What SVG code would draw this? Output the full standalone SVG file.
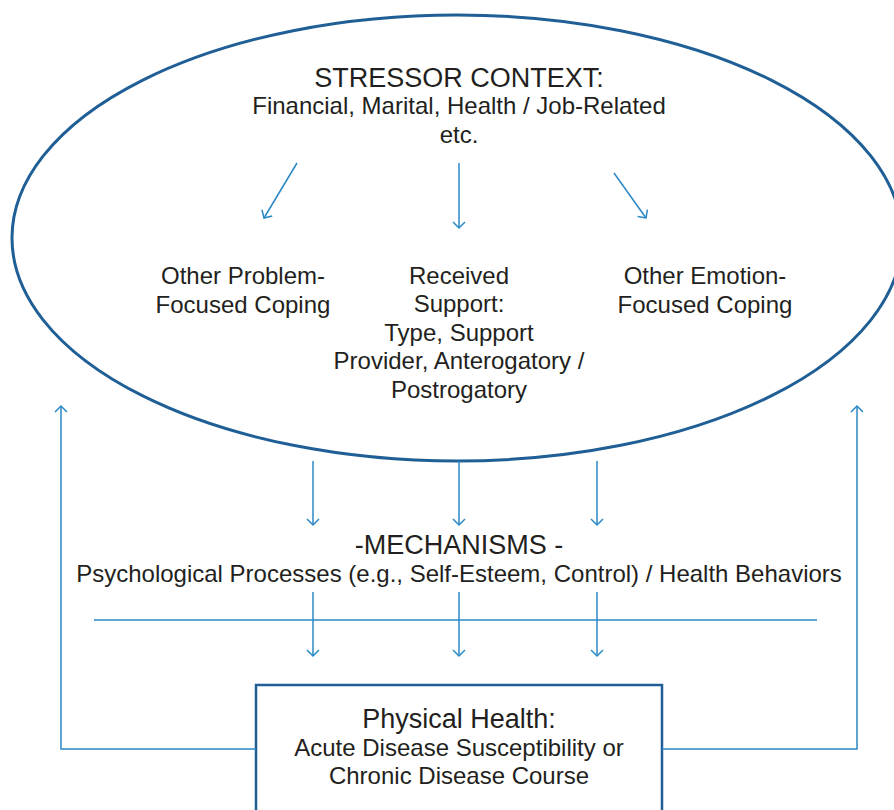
<svg xmlns="http://www.w3.org/2000/svg" width="894" height="810" viewBox="0 0 894 810">
<style>
text{font-family:"Liberation Sans",Arial,sans-serif;fill:#231f20;text-anchor:middle}
.t{font-size:27px}
.s{font-size:24px}
.c{stroke:#2a88c6;stroke-width:1.5;fill:none}
</style>
<defs>
<marker id="a" markerWidth="14" markerHeight="14" refX="7" refY="7" orient="auto" markerUnits="userSpaceOnUse">
<path d="M1,1 L7,7 L1,13" fill="none" stroke="#2a88c6" stroke-width="1.5"/>
</marker>
</defs>
<rect width="894" height="810" fill="#fff"/>
<g id="stressor">
<ellipse cx="457" cy="238" rx="445" ry="223" fill="none" stroke="#1f5f96" stroke-width="3"/>
<text class="t" x="459" y="87">STRESSOR CONTEXT:</text>
<text class="s" x="459" y="114">Financial, Marital, Health / Job-Related</text>
<text class="s" x="459" y="143">etc.</text>
</g>
<g id="problem">
<text class="s" x="243" y="284">Other Problem-</text>
<text class="s" x="243" y="313">Focused Coping</text>
</g>
<g id="support">
<text class="s" x="459" y="284">Received</text>
<text class="s" x="459" y="312">Support:</text>
<text class="s" x="459" y="341">Type, Support</text>
<text class="s" x="459" y="369">Provider, Anterogatory /</text>
<text class="s" x="459" y="398">Postrogatory</text>
</g>
<g id="emotion">
<text class="s" x="705" y="284">Other Emotion-</text>
<text class="s" x="705" y="313">Focused Coping</text>
</g>
<g id="mechanisms">
<text class="t" x="459" y="554">-MECHANISMS -</text>
<text class="s" x="459" y="582">Psychological Processes (e.g., Self-Esteem, Control) / Health Behaviors</text>
</g>
<g id="health">
<rect x="256" y="685" width="406" height="140" fill="none" stroke="#1f5f96" stroke-width="2.5"/>
<text class="t" x="459" y="728">Physical Health:</text>
<text class="s" x="459" y="756">Acute Disease Susceptibility or</text>
<text class="s" x="459" y="784">Chronic Disease Course</text>
</g>
<g id="connectors">
<line class="c" x1="297" y1="163" x2="264" y2="218" marker-end="url(#a)"/>
<line class="c" x1="459" y1="163" x2="459" y2="228" marker-end="url(#a)"/>
<line class="c" x1="614" y1="173" x2="646" y2="218" marker-end="url(#a)"/>
<line class="c" x1="313" y1="461" x2="313" y2="525" marker-end="url(#a)"/>
<line class="c" x1="459" y1="461" x2="459" y2="525" marker-end="url(#a)"/>
<line class="c" x1="597" y1="461" x2="597" y2="525" marker-end="url(#a)"/>
<line class="c" x1="94" y1="620" x2="817" y2="620"/>
<line class="c" x1="313" y1="592" x2="313" y2="656" marker-end="url(#a)"/>
<line class="c" x1="459" y1="592" x2="459" y2="656" marker-end="url(#a)"/>
<line class="c" x1="597" y1="592" x2="597" y2="656" marker-end="url(#a)"/>
<polyline class="c" points="256,749 61,749 61,406" marker-end="url(#a)"/>
<polyline class="c" points="662,749 857,749 857,406" marker-end="url(#a)"/>
</g>
</svg>
